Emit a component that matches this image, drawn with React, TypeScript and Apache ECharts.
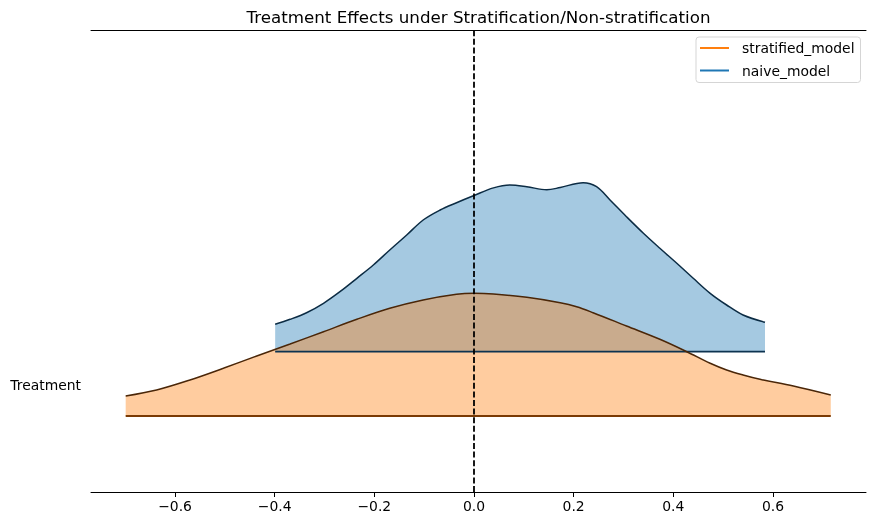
import React, { useEffect, useRef } from "react";
import * as echarts from "echarts";

const title = "Treatment Effects under Stratification/Non-stratification";
const rowLabel = "Treatment";
const tickValues = [-0.6, -0.4, -0.2, 0, 0.2, 0.4, 0.6];

const stratifiedX = [-0.699, -0.637, -0.57, -0.503, -0.436, -0.369, -0.302, -0.235, -0.169, -0.102, -0.035, 0.0, 0.039, 0.106, 0.173, 0.206, 0.239, 0.306, 0.373, 0.427, 0.474, 0.507, 0.54, 0.574, 0.641, 0.716];
const stratifiedDensity = [20, 26, 36, 47.7, 60, 72, 84.3, 96.7, 107.7, 116, 121.7, 122.7, 122, 118.7, 113.3, 109.3, 103.3, 90, 76.7, 64.3, 52.7, 46, 41, 36.7, 30, 21];

const naiveX = [-0.399, -0.369, -0.336, -0.302, -0.269, -0.235, -0.202, -0.169, -0.135, -0.102, -0.068, -0.035, 0.0, 0.039, 0.072, 0.106, 0.146, 0.173, 0.219, 0.246, 0.273, 0.306, 0.34, 0.373, 0.407, 0.44, 0.474, 0.507, 0.54, 0.584];
const naiveDensity = [27.4, 32.4, 39, 48.4, 60, 73.4, 86.7, 101.7, 116.7, 131.7, 141.7, 149, 156.2, 163.8, 166.7, 165, 161.9, 164.2, 169, 165, 151.7, 135, 118.4, 103.4, 88.4, 73.4, 58.4, 46.7, 36.7, 29.4];

// ridge offsets (y positions of each ridge's baseline)
const stratifiedBase = 76;
const naiveBase = 140.3;
const labelY = 107;

const FONT = "DejaVu Sans";

export default function App() {
  const ref = useRef<HTMLDivElement>(null);
  useEffect(() => {
    if (!ref.current) return;
    const chart = echarts.init(ref.current, undefined, { renderer: "svg" });
    const ridge = (xs: number[], ds: number[], base: number) => xs.map((x, i) => [x, base + ds[i]]);
    const baseLine = (xs: number[], base: number) => [[xs[0], base], [xs[xs.length - 1], base]];
    chart.setOption({
      animation: false,
      title: {
        text: title,
        left: 478.5,
        top: 7,
        padding: 0,
        textAlign: "center",
        textStyle: { fontFamily: FONT, fontSize: 16.7, fontWeight: "normal", color: "#000", lineHeight: 20 },
      },
      legend: {
        orient: "vertical",
        left: 696,
        top: 37,
        padding: [3, 6, 4, 4],
        itemGap: 6.5,
        itemWidth: 29,
        itemHeight: 2,
        selectedMode: false,
        borderColor: "#d5d5d5",
        borderWidth: 1,
        borderRadius: 3,
        backgroundColor: "rgba(255,255,255,0.8)",
        textStyle: { fontFamily: FONT, fontSize: 13.9, color: "#000", lineHeight: 16, padding: [0, 0, 0, 8] },
        data: [
          { name: "stratified_model", icon: "rect", itemStyle: { color: "#ff7f0e" } },
          { name: "naive_model", icon: "rect", itemStyle: { color: "#1f77b4" } },
        ],
      },
      grid: { left: 91, right: 9, top: 30, bottom: 34 },
      xAxis: [
        {
          type: "value",
          min: -0.7686,
          max: 0.7867,
          splitLine: { show: false },
          axisLine: { show: true, lineStyle: { color: "#000", width: 1 } },
          axisTick: { show: true, customValues: tickValues, length: 5, lineStyle: { color: "#000", width: 1 } },
          axisLabel: {
            customValues: tickValues,
            margin: 7,
            fontFamily: FONT,
            fontSize: 13.9,
            color: "#000",
            formatter: (v: number) => (v < -1e-9 ? "\u2212" : "") + Math.abs(v).toFixed(1),
          },
        },
        {
          type: "value",
          position: "top",
          min: -0.7686,
          max: 0.7867,
          splitLine: { show: false },
          axisLine: { show: true, lineStyle: { color: "#000", width: 1 } },
          axisTick: { show: false },
          axisLabel: { show: false },
        },
      ],
      yAxis: {
        type: "value",
        min: 0,
        max: 462,
        splitLine: { show: false },
        axisLine: { show: false },
        axisTick: { show: false },
        axisLabel: {
          customValues: [labelY],
          margin: 10,
          fontFamily: FONT,
          fontSize: 13.9,
          color: "#000",
          formatter: () => rowLabel,
        },
      },
      series: [
        {
          name: "naive_model",
          type: "line",
          data: ridge(naiveX, naiveDensity, naiveBase),
          smooth: 0.35,
          showSymbol: false,
          color: "#1f77b4",
          lineStyle: { color: "#0c2c44", width: 1.5 },
          areaStyle: { origin: naiveBase, color: "rgba(31,119,180,0.4)", opacity: 1 },
        },
        {
          name: "naive_base",
          type: "line",
          data: baseLine(naiveX, naiveBase),
          showSymbol: false,
          lineStyle: { color: "#0d3350", width: 1.8 },
        },
        {
          name: "stratified_model",
          type: "line",
          data: ridge(stratifiedX, stratifiedDensity, stratifiedBase),
          smooth: 0.35,
          showSymbol: false,
          color: "#ff7f0e",
          lineStyle: { color: "#4a2608", width: 1.5 },
          areaStyle: { origin: stratifiedBase, color: "rgba(255,127,14,0.4)", opacity: 1 },
        },
        {
          name: "stratified_base",
          type: "line",
          data: baseLine(stratifiedX, stratifiedBase),
          showSymbol: false,
          lineStyle: { color: "#7a3a04", width: 1.8 },
          markLine: {
            silent: true,
            symbol: "none",
            label: { show: false },
            lineStyle: { color: "#000", type: [6, 2.6], width: 1.8 },
            data: [{ xAxis: 0 }],
          },
        },
      ],
    });
    return () => chart.dispose();
  }, []);
  return <div ref={ref} style={{ position: "fixed", left: 0, top: 0, width: 875, height: 526 }} />;
}
